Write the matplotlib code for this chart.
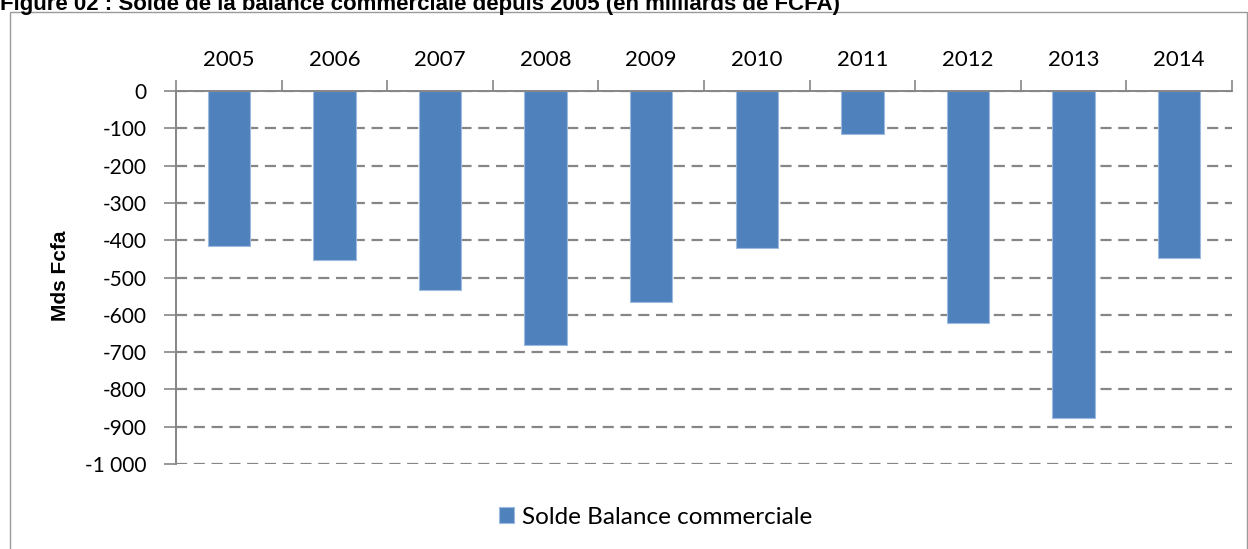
import numpy as np
import matplotlib
matplotlib.use("Agg")
import matplotlib.pyplot as plt
from matplotlib.patches import Rectangle

# data
years = ["2005", "2006", "2007", "2008", "2009", "2010", "2011", "2012", "2013", "2014"]
solde = [-415, -454, -534, -682, -566, -422, -114, -623, -876, -449]
yticks = [0, -100, -200, -300, -400, -500, -600, -700, -800, -900, -1000]

title = "Figure 02 : Solde de la balance commerciale depuis 2005 (en milliards de FCFA)"
series_name = "Solde Balance commerciale"

blue = "#4F81BD"
grey = "#868686"
txt_font = "Lato"


def main():
    fig = plt.figure(figsize=(12.48, 5.49), dpi=100)
    ax = fig.add_axes([176 / 1248, 1 - 464 / 549, (1232 - 176) / 1248, (464 - 91) / 549])

    # outer frame of the chart
    fig.patches.append(Rectangle((10 / 1248, -0.05), (1247 - 10) / 1248, 1 - 12 / 549 + 0.05,
                                 transform=fig.transFigure, fill=False,
                                 edgecolor="#9a9a9a", linewidth=1.0))

    x = np.arange(len(years))
    bars = ax.bar(x, solde, width=0.4, color=blue, edgecolor="#9DBBE0",
                  linewidth=0.8, zorder=3, label=series_name)

    ax.set_xlim(-0.5, len(years) - 0.5)
    ax.set_ylim(-1000, 0)

    # y axis
    ax.set_yticks(yticks)
    ax.set_yticklabels(["{:,}".format(v).replace(",", " ") for v in yticks],
                       fontfamily=txt_font, fontsize=15)
    ax.tick_params(axis="y", length=9, width=1.2, color=grey, pad=12)
    ax.yaxis.grid(True, linestyle=(0, (5, 3)), color=grey, linewidth=1.6, zorder=1)

    # x axis on top, ticks between categories
    ax.xaxis.tick_top()
    ax.set_xticks(np.arange(len(years) + 1) - 0.5)
    ax.set_xticklabels([])
    ax.set_xticks(x, minor=True)
    ax.set_xticklabels(years, minor=True, fontfamily=txt_font, fontsize=16)
    ax.tick_params(axis="x", which="major", length=8, width=1.2, color=grey, direction="out")
    ax.tick_params(axis="x", which="minor", length=0, pad=15)

    for s in ["right", "bottom"]:
        ax.spines[s].set_visible(False)
    for s in ["left", "top"]:
        ax.spines[s].set_color(grey)
        ax.spines[s].set_linewidth(1.4)
        ax.spines[s].set_zorder(4)

    fig.text(60 / 1248, 1 - 276 / 549, "Mds Fcfa", rotation=90, ha="center", va="center",
             fontsize=15, fontweight="bold", fontfamily="Liberation Sans")

    # title is clipped by the top edge, as in the source document
    fig.text(0.0, 1 - 10 / 549, title, ha="left", va="baseline",
             fontsize=16, fontweight="bold", fontfamily="Liberation Sans")

    fig.legend(handles=[bars], labels=[series_name], loc="center",
               bbox_to_anchor=(656 / 1248, 1 - 517 / 549), frameon=False,
               prop={"family": txt_font, "size": 17.5}, handlelength=0.6,
               handleheight=0.6, handletextpad=0.35)

    fig.savefig("out.png", dpi=100)


if __name__ == "__main__":
    main()
